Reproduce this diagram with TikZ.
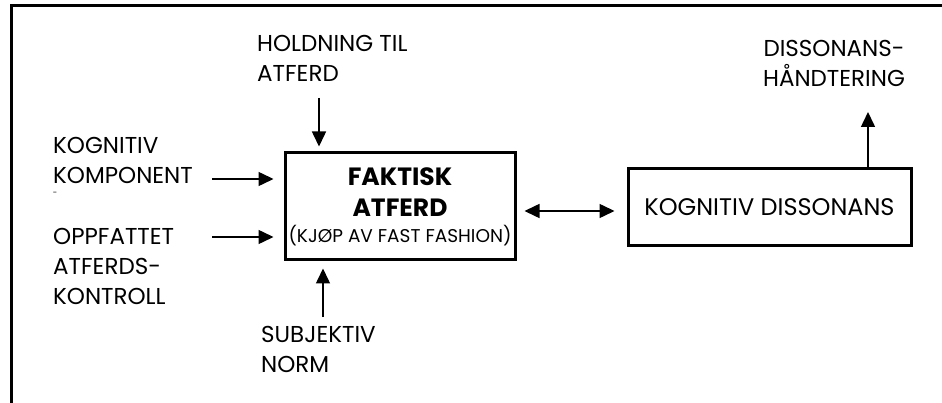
\documentclass[tikz,border=0pt]{standalone}
\usepackage{fontspec}
\setmainfont{Poppins}
\usetikzlibrary{arrows.meta}
\begin{document}
\begin{tikzpicture}[x=1pt,y=-1pt,
  lbl/.style={font=\fontsize{23}{30}\selectfont, align=left, inner sep=0pt},
  box/.style={draw, line width=3pt, inner sep=0pt},
  tip/.tip={Triangle[length=15pt,width=14pt]},
  conn/.style={line width=1.5pt, -tip},
]
\useasboundingbox (0,0) rectangle (942,403);
% frame
\draw[line width=3pt] (11,403) -- (11,6) -- (942,6);

% boxes
\node[box, minimum width=230pt, minimum height=107pt, align=center,
      font=\fontsize{25}{31}\selectfont] (act) at (400,206.5)
  {\textbf{FAKTISK}\\\textbf{ATFERD}\\[-5pt]{\fontsize{18.5}{22}\selectfont (KJØP AV FAST FASHION)}};
\node[box, minimum width=283pt, minimum height=77pt,
      font=\fontsize{24}{30}\selectfont] (dis) at (769.5,207.5) {KOGNITIV DISSONANS};

% labels
\node[lbl, anchor=north west] (hold) at (257,35) {HOLDNING TIL\\ATFERD};
\node[lbl, anchor=north west] (kog) at (53,137) {KOGNITIV\\KOMPONENT};
\node[inner sep=0pt, font=\fontsize{8}{8}\selectfont] (kogmark) at (55,194) {-};
\node[lbl, anchor=north west] (opp) at (53,228) {OPPFATTET\\ATFERDS-\\KONTROLL};
\node[lbl, anchor=north west] (subj) at (261,326) {SUBJEKTIV\\NORM};
\node[lbl, align=center, anchor=north] (hand) at (834,40) {DISSONANS-\\HÅNDTERING};

% connector ends
\coordinate (h0) at (319,98);
\coordinate (k0) at (212,179);
\coordinate (o0) at (212,237);
\coordinate (s0) at (323,317);
\coordinate (mid) at (0,211);
\coordinate (u1) at (868,112);

% connectors
\draw[conn, shorten >=5pt] (h0) -- (h0 |- act.north);
\draw[conn, shorten >=10pt] (k0) -- (k0 -| act.west);
\draw[conn, shorten >=10pt] (o0) -- (o0 -| act.west);
\draw[conn, shorten >=7pt] (s0) -- (s0 |- act.south);
\draw[conn, tip-tip, shorten <=8pt, shorten >=12pt] (act.east |- mid) -- (dis.west |- mid);
\draw[conn] (dis.north -| u1) -- (u1);
\end{tikzpicture}
\end{document}
